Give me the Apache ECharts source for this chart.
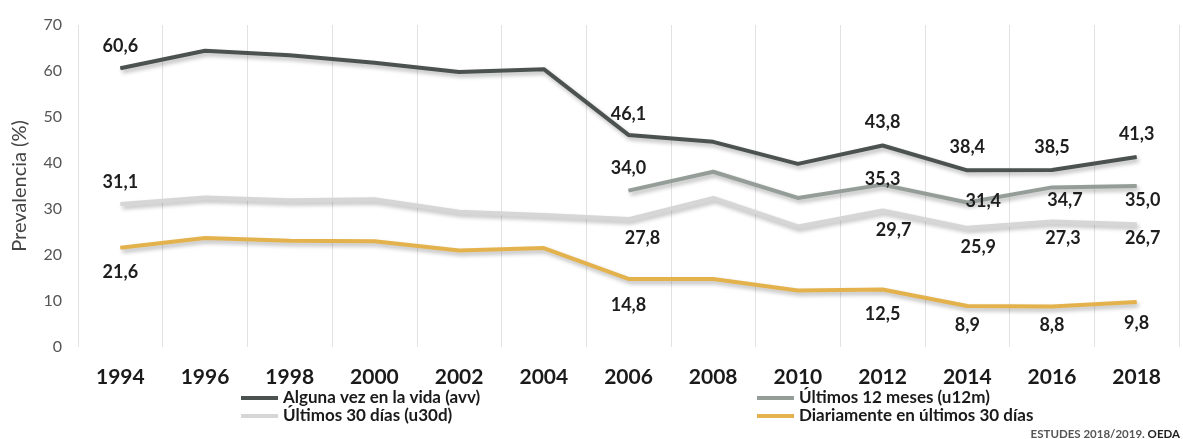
<!DOCTYPE html>
<html>
<head>
<meta charset="utf-8">
<script src="https://cdn.jsdelivr.net/npm/echarts@6/dist/echarts.min.js"></script>
<style>
  html, body { margin: 0; padding: 0; background: #fff; }
  #chart { width: 1183px; height: 439px; }
</style>
</head>
<body>
<div id="chart"></div>
<script>
// Prevalencia de consumo (%) por año de encuesta
const years = ['1994','1996','1998','2000','2002','2004','2006','2008','2010','2012','2014','2016','2018'];
const avv  = [60.6, 64.4, 63.4, 61.8, 59.8, 60.4, 46.1, 44.6, 39.8, 43.8, 38.4, 38.5, 41.3];
const u12m = [null, null, null, null, null, null, 34.0, 38.1, 32.4, 35.3, 31.4, 34.7, 35.0];
const u30d = [31.1, 32.5, 31.9, 32.1, 29.4, 28.7, 27.8, 32.4, 26.2, 29.7, 25.9, 27.3, 26.7];
const diario = [21.6, 23.7, 23.1, 23.0, 21.0, 21.5, 14.8, 14.8, 12.3, 12.5, 8.9, 8.8, 9.8];
const yTicks = [0, 10, 20, 30, 40, 50, 60, 70];

const seriesNames = [
  'Alguna vez en la vida (avv)',
  'Últimos 12 meses (u12m)',
  'Últimos 30 días (u30d)',
  'Diariamente en últimos 30 días'
];
const colors = ['#4b524f', '#959d99', '#d5d6d5', '#e4b24c'];

// Label placement per point: [dx, dy] from the point, or null for no label
const labelOffsets = [
  [[0,-22],null,null,null,null,null,[0,-21],null,null,[0,-23],[0,-23],[0,-23],[0,-23]],
  [null,null,null,null,null,null,[0,-22],null,null,[0,-5],[16,-1],[13,13],[6,14]],
  [[0,-22],null,null,null,null,null,[14,19],null,null,[11,20],[11,19],[11,17],[6,14]],
  [[0,25],null,null,null,null,null,[0,26],null,null,[0,25],[0,19],[0,19],[0,21]]
];

const FONT = 'Lato, "Open Sans", sans-serif';

function fmt(v) { return v.toFixed(1).replace('.', ','); }

function buildData(values, offsets) {
  return values.map((v, i) => {
    const off = offsets[i];
    if (v === null) return null;
    if (!off) return { value: v, label: { show: false } };
    return {
      value: v,
      label: { show: true, position: 'inside', offset: off }
    };
  });
}

const allValues = [avv, u12m, u30d, diario];

const series = allValues.map((vals, k) => ({
  name: seriesNames[k],
  type: 'line',
  data: buildData(vals, labelOffsets[k]),
  symbol: 'circle',
  symbolSize: 1,
  showSymbol: true,
  itemStyle: { color: colors[k] },
  lineStyle: {
    color: colors[k],
    width: 4,
    shadowColor: 'rgba(0,0,0,0.28)',
    shadowBlur: 4,
    shadowOffsetX: 2,
    shadowOffsetY: 3
  },
  label: {
    show: false,
    formatter: p => fmt(p.value),
    color: '#1e1e1e',
    fontFamily: FONT,
    fontWeight: 'bold',
    fontSize: 18
  },
  z: 10 - k,
  animation: false
}));

const legendText = { color: '#1a1a1a', fontFamily: FONT, fontWeight: 'bold', fontSize: 17, lineHeight: 18 };

const chart = echarts.init(document.getElementById('chart'));
chart.setOption({
  backgroundColor: '#ffffff',
  animation: false,
  grid: { left: 78, right: 4, top: 25, bottom: 92, containLabel: false },
  xAxis: {
    type: 'category',
    data: years,
    boundaryGap: true,
    axisLine: { show: false },
    axisTick: { show: false },
    axisLabel: {
      margin: 20,
      color: '#1a1a1a',
      fontFamily: FONT,
      fontWeight: 'bold',
      fontSize: 21,
      interval: 0
    },
    splitLine: { show: true, lineStyle: { color: '#e2e2e2', width: 1 } }
  },
  yAxis: {
    type: 'value',
    min: yTicks[0],
    max: yTicks[yTicks.length - 1],
    interval: 10,
    name: 'Prevalencia (%)',
    nameLocation: 'middle',
    nameGap: 48,
    nameRotate: 90,
    nameTextStyle: { color: '#444', fontFamily: FONT, fontSize: 20 },
    axisLine: { show: false },
    axisTick: { show: false },
    splitLine: { show: false },
    axisLabel: {
      margin: 16,
      color: '#555',
      fontFamily: FONT,
      fontSize: 16
    }
  },
  legend: [
    {
      data: [seriesNames[0], seriesNames[2]],
      orient: 'vertical',
      left: 236,
      top: 384,
      itemGap: 0,
      itemWidth: 37,
      itemHeight: 4,
      icon: 'rect',
      textStyle: legendText
    },
    {
      data: [seriesNames[1], seriesNames[3]],
      orient: 'vertical',
      left: 752,
      top: 384,
      itemGap: 0,
      itemWidth: 37,
      itemHeight: 4,
      icon: 'rect',
      textStyle: legendText
    }
  ],
  title: {
    text: '{a|ESTUDES 2018/2019. }{b|OEDA}',
    right: 3,
    top: 428,
    padding: 0,
    textStyle: {
      rich: {
        a: { color: '#555', fontFamily: FONT, fontSize: 11.5 },
        b: { color: '#222', fontFamily: FONT, fontSize: 11.5, fontWeight: 'bold' }
      }
    }
  },
  series: series
});
</script>
</body>
</html>
